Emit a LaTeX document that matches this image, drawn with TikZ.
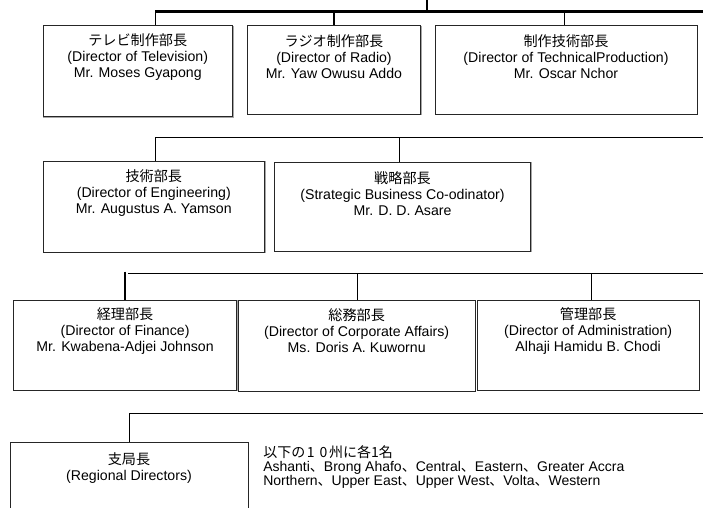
\documentclass[tikz,border=0pt]{standalone}
\usepackage{fontspec}
\setmainfont{Liberation Sans}
\newfontfamily\jp{Noto Sans CJK JP}
\usetikzlibrary{fit}
\begin{document}
\begin{tikzpicture}[x=0.75pt,y=-0.75pt,
  box/.style={draw=black!85, line width=0.75pt, inner sep=0pt, fill=white,
    preaction={draw=black!35, line width=0.75pt, transform canvas={shift={(0.6pt,-0.6pt)}}}},
  lbl/.style={align=center, inner sep=0pt, font=\fontsize{10.6}{12}\selectfont},
  note/.style={align=left, inner sep=0pt, anchor=west, font=\fontsize{10.5}{10.5}\selectfont},
  thinline/.style={line width=0.75pt, draw=black},
  thickline/.style={line width=1.6pt, draw=black},
]
\useasboundingbox (0,0) rectangle (703,507);
\clip (0,0) rectangle (703,507);

% ---------- row 1 ----------
\node[box, fit={(43,25.5) (232.5,116.5)}] (b1) {};
\node[box, fit={(247.5,25.5) (420.5,114)}] (b2) {};
\node[box, fit={(435,25.5) (697,114)}] (b3) {};
\node[lbl] (t1) at ([yshift=-24pt]b1.north) {{\jp テレビ制作部長}\\(Director of Television)\\Mr. Moses Gyapong};
\node[lbl] (t2) at ([yshift=-24pt]b2.north) {{\jp ラジオ制作部長}\\(Director of Radio)\\Mr. Yaw Owusu Addo};
\node[lbl] (t3) at ([yshift=-24pt]b3.north) {{\jp 制作技術部長}\\(Director of TechnicalProduction)\\Mr. Oscar Nchor};

\coordinate (top) at (427,0);
\coordinate (r1L) at (155,11.5);
\coordinate (r1R) at (703,11.5);
\coordinate (r1c) at (564,11.5);
\draw[thickline] (top) -- (top |- r1L);
\draw[thickline] (r1L) -- (r1R);
\draw[thinline] (r1L) -- (r1L |- b1.north);
\draw[thickline] (b2.north |- r1L) -- (b2.north);
\draw[thinline] (r1c) -- (r1c |- b3.north);

% ---------- row 2 ----------
\node[box, fit={(43.3,161) (264.3,252)}] (b4) {};
\node[box, fit={(274.5,162) (530.5,251)}] (b5) {};
\node[lbl] (t4) at ([yshift=-24.5pt]b4.north) {{\jp 技術部長}\\(Director of Engineering)\\Mr. Augustus A. Yamson};
\node[lbl] (t5) at ([yshift=-24pt]b5.north) {{\jp 戦略部長}\\(Strategic Business Co-odinator)\\Mr. D. D. Asare};

\coordinate (r2L) at (155,137);
\coordinate (r2R) at (703,137);
\coordinate (r2b) at (399,137);
\draw[thinline] (r2L) -- (r2R);
\draw[thinline] (r2L) -- (r2L |- b4.north);
\draw[thinline] (r2b) -- (r2b |- b5.north);

% ---------- row 3 ----------
\node[box, fit={(13.5,300) (236.7,390)}] (b6) {};
\node[box, fit={(238.3,300) (475,391)}] (b7) {};
\node[box, fit={(477.3,300) (699,390)}] (b8) {};
\node[lbl] (t6) at ([yshift=-23.5pt]b6.north) {{\jp 経理部長}\\(Director of Finance)\\Mr. Kwabena-Adjei Johnson};
\node[lbl] (t7) at ([yshift=-23.5pt]b7.north) {{\jp 総務部長}\\(Director of Corporate Affairs)\\Ms. Doris A. Kuwornu};
\node[lbl] (t8) at ([yshift=-23.5pt]b8.north) {{\jp 管理部長}\\(Director of Administration)\\Alhaji Hamidu B. Chodi};

\coordinate (r3v) at (125,271.5);
\coordinate (r3L) at (128.3,273.3);
\coordinate (r3R) at (703,273.3);
\coordinate (r3b) at (357.4,273.3);
\coordinate (r3c) at (591.7,273.3);
\draw[thickline] (r3v) -- (r3v |- b6.north);
\draw[thinline] (r3L) -- (r3R);
\draw[thinline] (r3b) -- (r3b |- b7.north);
\draw[thinline] (r3c) -- (r3c |- b8.north);

% ---------- row 4 ----------
\node[box, fit={(10,442.7) (248,515)}] (b9) {};
\node[lbl] (t9) at ([yshift=-19.5pt]b9.north) {{\jp 支局長}\\(Regional Directors)};
\node[note] (n9) at (263,466.7) {{\jp 以下の\hspace{0.12em}1\hspace{0.35em}0\hspace{0.12em}州に各1名}\\Ashanti{\jp 、}Brong Ahafo{\jp 、}Central{\jp 、}Eastern{\jp 、}Greater Accra\\Northern{\jp 、}Upper East{\jp 、}Upper West{\jp 、}Volta{\jp 、}Western};

\coordinate (r4L) at (129.5,413.3);
\coordinate (r4R) at (703,413.3);
\draw[thinline] (r4L) -- (r4R);
\draw[thinline] (r4L) -- (r4L |- b9.north);
\end{tikzpicture}
\end{document}
